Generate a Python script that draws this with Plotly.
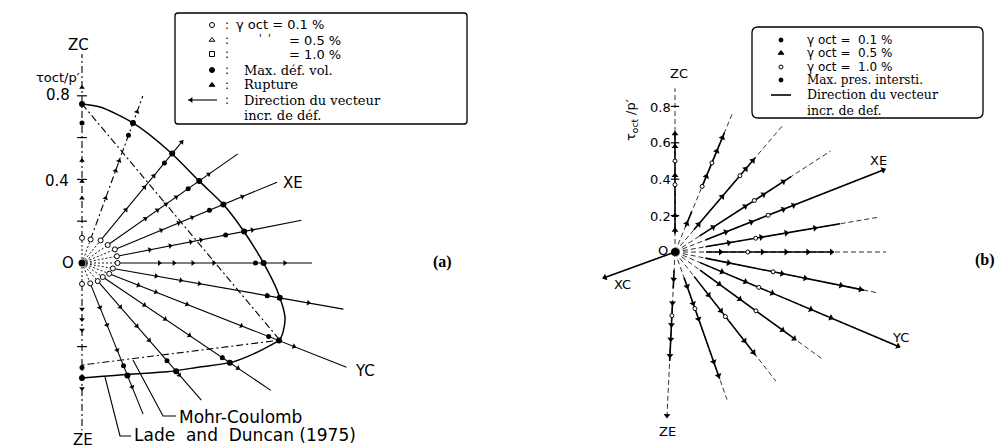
import numpy as np
import plotly.graph_objects as go

W, H = 1003, 448
SANS = "DejaVu Sans"
SERIF = "DejaVu Serif"
NB = "\u00a0"

# ---------------- panel (a): drained paths, octahedral plane ----------------
RAY_ANG_A = [90, 70, 50.5, 35, 22.5, 11, 0, -10, -21.5, -34, -49, -68, -90]
RAY_LEN_A = [1.00, 0.85, 0.76, 0.91, 1.01, 1.07, 1.10, 1.27, 1.36, 1.09, 0.87, 0.78, 0.80]
# radius where gamma_oct = 0.1 % is reached on each path
GAMMA01_A = [0.12, 0.12, 0.14, 0.15, 0.17, 0.17, 0.17, 0.15, 0.14, 0.12, 0.115, 0.105, 0.10]
# strain-increment directions recorded along each path
ARROWS_A = [
    [0.31, 0.39, 0.49, 0.84],
    [0.33, 0.47, 0.52, 0.77],
    [0.33, 0.47, 0.54, 0.75],
    [0.37, 0.44, 0.49, 0.55, 0.74],
    [0.41, 0.50, 0.57, 0.83],
    [0.33, 0.43, 0.53, 0.58, 0.83],
    [0.37, 0.44, 0.53, 0.63, 0.97],
    [0.36, 0.48, 0.57, 0.90, 1.10],
    [0.29, 0.38, 0.54, 0.82, 1.09],
    [0.36, 0.48, 0.62, 0.81, 0.90],
    [0.28, 0.40, 0.49, 0.71],
    [0.23, 0.32, 0.45, 0.64],
    [0.22, 0.27, 0.32, 0.60],
]
# maximum volumetric strain
MAXVOL_A = [0.67, 0.65, 0.62, 0.62, 0.66, 0.70, 0.83, 0.90, 0.96, 0.81, 0.62, 0.53, 0.50]
ZC_TICKS_A = [0.2, 0.4, 0.6, 0.8]
ZE_TICKS_A = [0.4]

# Lade and Duncan (1975) failure surface (angle in deg, radius in tau_oct/p')
LD_ANG_UP = [90, 83.4, 70, 51.6, 34.5, 22.7, 11.6, 0.3, -7.9, -14.9, -18.9, -21.3]
LD_R_UP = [0.761, 0.751, 0.713, 0.678, 0.685, 0.731, 0.786, 0.866, 0.942, 1.005, 1.017, 1.016]
LD_ANG_LOW = [-21.3, -26.8, -33.2, -41.4, -52.0, -65.3, -90]
LD_R_LOW = [1.016, 0.943, 0.864, 0.752, 0.661, 0.584, 0.550]
# Mohr-Coulomb surface
MC_ANG = [90, -21.3, -90]
MC_R = [0.761, 1.016, 0.488]

# ---------------- panel (b): undrained paths ----------------
RAY_ANG_B = [90, 67.5, 49.6, 33, 21.5, 9.7, 0, -11.4, -22.9, -36, -52, -70.6, -92.8, 200]
RAY_LEN_B = [0.90, 0.83, 0.92, 1.02, 1.23, 1.14, 1.16, 1.14, 1.34, 1.00, 0.90, 0.86, 0.91, 0.41]
SEG_B = [
    [[0.10, 0.66]],
    [[0.15, 0.24], [0.39, 0.71]],
    [[0.16, 0.68]],
    [[0.16, 0.76]],
    [[0.18, 1.23]],
    [[0.17, 0.92]],
    [[0.17, 0.87]],
    [[0.17, 1.06]],
    [[0.15, 1.34]],
    [[0.17, 0.82]],
    [[0.17, 0.72]],
    [[0.15, 0.74]],
    [[0.10, 0.20], [0.28, 0.60]],
    [[0.00, 0.41]],
]
ARROWS_B = [
    [0.12, 0.20, 0.42, 0.58, 0.65],
    [0.17, 0.45, 0.60, 0.68],
    [0.20, 0.40, 0.60, 0.66],
    [0.25, 0.46, 0.58, 0.71],
    [0.30, 0.45, 0.64, 0.70, 1.23],
    [0.30, 0.48, 0.62, 0.78],
    [0.25, 0.48, 0.61, 0.73, 0.86],
    [0.30, 0.60, 0.73, 0.93, 1.04],
    [0.28, 0.42, 0.58, 0.81, 0.93, 1.33],
    [0.30, 0.44, 0.73, 0.81],
    [0.30, 0.41, 0.62, 0.70],
    [0.20, 0.30, 0.39, 0.64, 0.72],
    [0.15, 0.28, 0.40, 0.48, 0.57, 0.90],
    [0.41],
]
GAMMA10_B = [[0.37, 0.50], [0.39, 0.53], [0.55], [0.52], [0.55], [0.45], [0.40], [0.55], [0.50], [0.55], [0.45], [0.33], [0.35], []]
ZC_TICKS_B = [0.2, 0.4, 0.6, 0.8]

# ---------------- geometry of the two panels ----------------
PANELS = {
    "a": dict(xa="x", ya="y", ox=82, oy=263, k=209, px0=0, px1=W / 2),
    "b": dict(xa="x2", ya="y2", ox=675, oy=252, k=182, px0=W / 2, px1=W),
}


def polar(r, ang):
    t = np.deg2rad(np.asarray(ang, dtype=float))
    r = np.asarray(r, dtype=float)
    return r * np.cos(t), r * np.sin(t)


def to_data(p, px, py):
    g = PANELS[p]
    return (px - g["ox"]) / g["k"], (g["oy"] - py) / g["k"]


def paper(px, py):
    return px / W, 1 - py / H


fig = go.Figure()


def line(p, x, y, width=1.2, dash="solid", shape="linear", smoothing=1.0):
    g = PANELS[p]
    fig.add_trace(go.Scatter(x=list(x), y=list(y), mode="lines", xaxis=g["xa"], yaxis=g["ya"],
                             line=dict(color="black", width=width, dash=dash, shape=shape,
                                       smoothing=smoothing),
                             hoverinfo="skip", showlegend=False))


def marks(p, x, y, symbol, size, angle=0, fill="black", lw=1):
    g = PANELS[p]
    fig.add_trace(go.Scatter(x=list(x), y=list(y), mode="markers", xaxis=g["xa"], yaxis=g["ya"],
                             marker=dict(symbol=symbol, size=size, angle=angle, color=fill,
                                         line=dict(color="black", width=lw)),
                             hoverinfo="skip", showlegend=False, cliponaxis=False))


DASHDOT = "7px,3px,2px,3px"

# failure radius on each path, read on the Lade-Duncan surface
ld_ang_all = LD_ANG_UP + LD_ANG_LOW[1:]
ld_r_all = LD_R_UP + LD_R_LOW[1:]
order = np.argsort(ld_ang_all)
rupt_a = np.interp(RAY_ANG_A, np.array(ld_ang_all)[order], np.array(ld_r_all)[order])

# ---- panel (a) drawing ----
for i, ang in enumerate(RAY_ANG_A):
    r0 = GAMMA01_A[i]
    x, y = polar([0, r0], [ang, ang])
    line("a", x, y, width=0.9, dash="2px,2px")
    x, y = polar([r0, RAY_LEN_A[i]], [ang, ang])
    style = DASHDOT if abs(ang) in (90, 70) else "solid"
    line("a", x, y, width=1.1, dash=style)
    x, y = polar([r0], [ang])
    marks("a", x, y, "circle", 5, fill="white", lw=1)
    x, y = polar(ARROWS_A[i], [ang] * len(ARROWS_A[i]))
    marks("a", x, y, "triangle-up", 5, angle=90 - ang, lw=0)
    x, y = polar([MAXVOL_A[i]], [ang])
    marks("a", x, y, "circle", 5, lw=0)
    x, y = polar([rupt_a[i]], [ang])
    marks("a", x, y, "circle", 6, lw=0)

x, y = polar(ZC_TICKS_A, [90] * len(ZC_TICKS_A))
marks("a", x, y, "line-ew", 7, lw=1.2)
x, y = polar(ZE_TICKS_A, [-90] * len(ZE_TICKS_A))
marks("a", x, y, "line-ew", 7, lw=1.2)

x, y = polar(LD_R_UP, LD_ANG_UP)
line("a", x, y, width=1.5, shape="spline", smoothing=0.8)
x, y = polar(LD_R_LOW, LD_ANG_LOW)
line("a", x, y, width=1.5, shape="spline", smoothing=0.8)
x, y = polar(MC_R, MC_ANG)
line("a", x, y, width=1.1, dash=DASHDOT)
marks("a", [0], [0], "circle", 7, lw=0)

# ---- panel (b) drawing ----
for i, ang in enumerate(RAY_ANG_B):
    x, y = polar([0, RAY_LEN_B[i]], [ang, ang])
    line("b", x, y, width=0.8, dash="5px,3px")
    for r0, r1 in SEG_B[i]:
        x, y = polar([r0, r1], [ang, ang])
        line("b", x, y, width=1.6)
    x, y = polar(ARROWS_B[i], [ang] * len(ARROWS_B[i]))
    marks("b", x, y, "triangle-up", 6, angle=90 - ang, lw=0)
    if GAMMA10_B[i]:
        x, y = polar(GAMMA10_B[i], [ang] * len(GAMMA10_B[i]))
        marks("b", x, y, "circle", 4, fill="white", lw=1)

x, y = polar(ZC_TICKS_B, [90] * len(ZC_TICKS_B))
marks("b", x, y, "line-ew", 6, lw=1.2)
marks("b", [0], [0], "circle", 8, lw=0)


# ---------------- text ----------------
def label(text, px, py, size=14, family=SANS, anchor="center", angle=0):
    x, y = paper(px, py)
    fig.add_annotation(x=x, y=y, xref="paper", yref="paper", text=text, showarrow=False,
                       xanchor=anchor, yanchor="middle", textangle=angle, borderpad=0,
                       font=dict(size=size, family=family, color="black"))


label("ZC", 78, 45, size=15)
label("τoct/p′", 58, 78, size=13)
label("0.8", 58, 95, size=15)
label("0.4", 57, 181, size=15)
label("O", 68, 263, size=15)
label("XE", 293, 183, size=15)
label("YC", 365, 371, size=15)
label("ZE", 83, 440, size=15)
label("<b>(a)</b>", 442, 262, size=16, family="Liberation Serif")
label("Mohr-Coulomb", 178, 417, size=17, anchor="left")
label(f"Lade{NB}{NB}and{NB}{NB}Duncan{NB}(1975)", 133, 435, size=17, anchor="left")

label("ZC", 679, 74, size=13)
label("τ<sub>oct</sub> /p′", 632, 120, size=13, angle=-90)
for v, py in zip(ZC_TICKS_B, [216, 179, 142, 107]):
    label(f"{v:.1f}", 660, py, size=13)
label("O", 663, 250, size=13)
label("XE", 878, 160, size=13)
label("YC", 900, 337, size=13)
label("ZE", 667, 431, size=13)
label("XC", 622, 284, size=13)
label("<b>(b)</b>", 985, 260, size=16, family="Liberation Serif")

# legend (a)
rows_a = [25, 40, 54, 70, 85, 100, 115]
for py in rows_a[:6]:
    label(":", 227, py, size=12)
label("γ oct = 0.1 %", 235, rows_a[0], size=13, anchor="left")
label("'  '", 258, rows_a[1] - 2, size=10, anchor="left")
label("= 0.5 %", 288, rows_a[1], size=13, anchor="left")
label("= 1.0 %", 288, rows_a[2], size=13, anchor="left")
label("Max. déf. vol.", 243, rows_a[3], size=13, family=SERIF, anchor="left")
label("Rupture", 243, rows_a[4], size=13, family=SERIF, anchor="left")
label("Direction du vecteur", 243, rows_a[5], size=13, family=SERIF, anchor="left")
label("incr. de déf.", 243, rows_a[6], size=13, family=SERIF, anchor="left")
for sym, py, fill in [("circle", rows_a[0], "white"), ("triangle-up", rows_a[1], "white"),
                      ("square", rows_a[2], "white"), ("circle", rows_a[3], "black"),
                      ("triangle-up", rows_a[4], "black")]:
    x, y = to_data("a", 212, py)
    marks("a", [x], [y], sym, 5, fill=fill, lw=1)
xl, yl = to_data("a", 188, rows_a[5])
xr, _ = to_data("a", 217, rows_a[5])
line("a", [xl, xr], [yl, yl], width=1.1)
marks("a", [xl + 0.015], [yl], "triangle-left", 5, lw=0)

# legend (b)
rows_b = [40, 53, 67, 80, 95, 110]
label(f"γ oct ={NB}{NB}0.1 %", 806, rows_b[0], size=12, anchor="left")
label(f"γ oct ={NB}{NB}0.5 %", 806, rows_b[1], size=12, anchor="left")
label(f"γ oct ={NB}{NB}1.0 %", 806, rows_b[2], size=12, anchor="left")
label("Max. pres. intersti.", 806, rows_b[3], size=12, family=SERIF, anchor="left")
label("Direction du vecteur", 806, rows_b[4], size=12.5, family=SERIF, anchor="left")
label("incr. de def.", 806, rows_b[5], size=12.5, family=SERIF, anchor="left")
for sym, py, fill, sz in [("circle", rows_b[0], "black", 4), ("triangle-up", rows_b[1], "black", 5),
                          ("circle", rows_b[2], "white", 4), ("circle", rows_b[3], "black", 4)]:
    x, y = to_data("b", 781, py)
    marks("b", [x], [y], sym, sz, fill=fill, lw=1)
xl, yl = to_data("b", 771, rows_b[4])
xr, _ = to_data("b", 791, rows_b[4])
line("b", [xl, xr], [yl, yl], width=1.6)


# ---------------- boxes and leader lines ----------------
def rounded_box(x0, y0, x1, y1, rad):
    (a0, b0), (a1, b1) = paper(x0, y0), paper(x1, y1)
    rx, ry = rad / W, rad / H
    return (f"M{a0 + rx},{b0} L{a1 - rx},{b0} Q{a1},{b0} {a1},{b0 - ry} "
            f"L{a1},{b1 + ry} Q{a1},{b1} {a1 - rx},{b1} L{a0 + rx},{b1} "
            f"Q{a0},{b1} {a0},{b1 + ry} L{a0},{b0 - ry} Q{a0},{b0} {a0 + rx},{b0} Z")


fig.add_shape(type="path", xref="paper", yref="paper", path=rounded_box(175, 13, 467, 124, 3),
              line=dict(color="black", width=1.3))
fig.add_shape(type="path", xref="paper", yref="paper", path=rounded_box(752, 27, 983, 118, 6),
              line=dict(color="black", width=1.3))


def leader(pts):
    p = [paper(*q) for q in pts]
    path = "M" + " L".join(f"{a},{b}" for a, b in p)
    fig.add_shape(type="path", xref="paper", yref="paper", path=path,
                  line=dict(color="black", width=1.1))


leader([(133, 360), (163, 416), (176, 416)])
leader([(105, 377), (120, 436), (131, 436)])

# ---------------- axes / layout ----------------
for p, g in PANELS.items():
    xr = [(g["px0"] - g["ox"]) / g["k"], (g["px1"] - g["ox"]) / g["k"]]
    yr = [(g["oy"] - H) / g["k"], g["oy"] / g["k"]]
    dom = [g["px0"] / W, g["px1"] / W]
    xname = "xaxis" if g["xa"] == "x" else "xaxis2"
    yname = "yaxis" if g["ya"] == "y" else "yaxis2"
    fig.layout[xname] = dict(range=xr, domain=dom, visible=False, fixedrange=True,
                             anchor=g["ya"])
    fig.layout[yname] = dict(range=yr, domain=[0, 1], visible=False, fixedrange=True,
                             anchor=g["xa"])

fig.update_layout(width=W, height=H, margin=dict(l=0, r=0, t=0, b=0),
                  paper_bgcolor="white", plot_bgcolor="white", showlegend=False)

fig.write_html("out.html")
